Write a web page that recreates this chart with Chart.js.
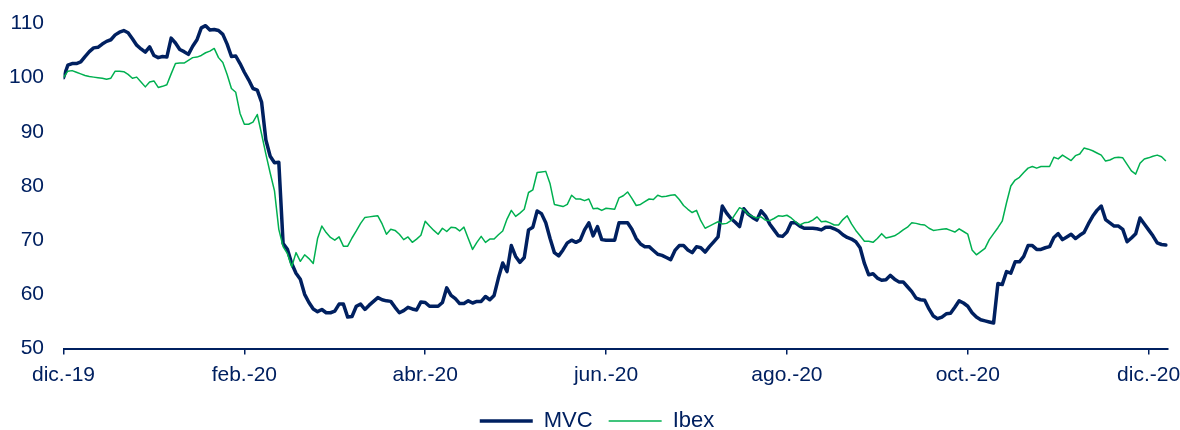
<!DOCTYPE html>
<html><head><meta charset="utf-8">
<script src="https://cdn.jsdelivr.net/npm/chart.js@4.4.1/dist/chart.umd.min.js"></script>
<style>html,body{margin:0;padding:0;background:#fff;}canvas{display:block}</style>
</head><body>
<canvas id="c" width="1180" height="430"></canvas>
<script>
const tickLabels = ['dic.-19','feb.-20','abr.-20','jun.-20','ago.-20','oct.-20','dic.-20'];
const sessionsPerTick = 42;
const seriesNames = ['MVC','Ibex'];
const mvc = [
100,102.3,102.6,102.6,102.9,103.9,104.8,105.5,105.6,106.2,106.7,107.0,107.9,108.4,108.7,108.3,107.2,106.0,105.3,104.7,
105.7,104.1,103.7,103.9,103.8,107.3,106.4,105.2,104.8,104.3,105.8,107.0,109.2,109.6,108.8,108.9,108.7,108.0,106.2,103.9,
104.0,102.6,101.0,99.6,98.0,97.7,95.5,88.5,85.5,84.3,84.4,69.4,68.3,65.7,63.9,62.8,60.0,58.5,57.3,56.8,
57.2,56.6,56.6,56.9,58.2,58.2,55.8,55.9,57.8,58.2,57.2,58.0,58.7,59.4,59.0,58.8,58.7,57.6,56.6,57.0,
57.6,57.3,57.1,58.6,58.5,57.8,57.8,57.8,58.5,61.2,59.8,59.2,58.3,58.3,58.8,58.4,58.7,58.7,59.6,59.0,
59.8,63.0,65.8,64.2,69.0,67.0,65.9,66.8,71.9,72.4,75.4,74.9,73.2,70.3,67.7,67.1,68.2,69.5,70.0,69.6,
70.0,71.9,73.2,70.8,72.5,70.1,70.0,70.0,70.0,73.2,73.2,73.2,72.0,70.3,69.3,68.8,68.8,68.1,67.4,67.2,
66.8,66.4,68.1,69.0,69.0,68.2,67.7,68.8,68.6,67.8,68.8,69.7,70.6,76.3,75.0,74.0,73.3,72.5,75.8,74.8,
74.2,73.7,75.4,74.5,73.0,71.9,70.8,70.7,71.5,73.2,73.2,72.6,72.2,72.2,72.2,72.1,71.9,72.4,72.4,72.1,
71.7,71.0,70.5,70.2,69.7,68.6,65.7,63.6,63.8,63.0,62.6,62.7,63.5,62.8,62.3,62.3,61.4,60.5,59.3,59.0,
58.9,57.3,56.0,55.5,55.8,56.4,56.5,57.6,58.8,58.4,57.8,56.6,55.8,55.3,55.1,54.9,54.7,62.0,61.8,64.2,
63.9,66.0,66.0,67.0,69.0,69.0,68.3,68.3,68.6,68.8,70.5,71.2,70.1,70.6,71.1,70.3,70.9,71.4,73.0,74.4,
75.5,76.3,73.8,73.2,72.6,72.6,72.0,69.7,70.4,71.2,74.1,73.0,71.9,70.8,69.5,69.2,69.1
];
const ibex = [
100,101.2,101.3,101.0,100.7,100.4,100.2,100.1,100.0,99.9,99.7,99.9,101.2,101.2,101.1,100.6,99.9,100.1,99.2,98.3,
99.2,99.4,98.2,98.4,98.7,100.7,102.6,102.7,102.7,103.2,103.7,103.8,104.1,104.6,104.9,105.4,103.7,102.8,100.6,98.0,
97.3,93.4,91.4,91.4,91.8,93.2,89.6,85.9,82.4,79.1,72.0,68.8,67.5,65.1,67.7,66.1,67.3,66.6,65.7,70.3,
72.6,71.4,70.5,70.0,70.6,68.9,68.9,70.4,71.7,73.1,74.2,74.3,74.4,74.5,73.0,71.1,72.0,71.8,71.1,70.1,
70.6,69.6,70.2,70.9,73.5,72.6,71.8,71.1,72.2,71.6,72.4,72.3,71.7,72.4,70.3,68.3,69.6,70.7,69.6,70.2,
70.2,71.0,71.7,73.9,75.5,74.4,75.0,75.7,78.8,79.3,82.5,82.6,82.7,80.4,76.6,76.4,76.2,76.6,78.3,77.6,
77.6,77.3,77.6,75.8,75.9,75.5,75.9,75.8,75.7,77.8,78.2,78.9,77.7,76.4,76.6,77.1,77.6,77.5,78.3,78.0,
78.1,78.3,78.4,77.5,76.4,75.7,75.1,75.5,73.6,72.2,72.6,73.0,73.4,73.0,73.1,73.6,74.8,76.0,75.6,74.8,
74.4,74.1,74.3,73.7,73.6,74.0,74.5,74.4,74.6,74.1,73.4,72.8,73.2,73.3,73.7,74.3,73.4,73.5,73.2,72.8,
72.8,73.8,74.5,73.0,71.8,70.8,69.8,69.8,69.6,70.3,71.2,70.4,70.6,70.8,71.3,71.9,72.4,73.2,73.1,72.9,
72.8,72.2,71.8,71.9,72.0,72.1,71.8,71.5,72.1,71.6,71.1,68.2,67.3,67.9,68.5,70.1,71.2,72.3,73.5,76.9,
80.0,81.1,81.6,82.5,83.3,83.6,83.3,83.6,83.6,83.6,85.3,85.0,85.7,85.2,84.7,85.6,85.9,87.0,86.8,86.5,
86.1,85.7,84.6,84.8,85.2,85.3,85.2,84.0,82.8,82.2,84.2,85.0,85.2,85.5,85.7,85.4,84.6
];
const yMin = 50, yMax = 110, yStep = 10;

const NAVY = '#002060';
const GREEN = '#00B050';
const FONT = '"Liberation Sans", Arial, sans-serif';

const legendPlacer = {
  id: 'legendPlacer',
  afterLayout(chart) {
    const lg = chart.legend;
    if (!lg) return;
    const dy = 4.5, dx = 13;
    lg.top += dy; lg.bottom += dy;
    lg.left += dx; lg.right += dx;
  }
};

new Chart(document.getElementById('c'), {
  type: 'line',
  data: {
    datasets: [
      { label: seriesNames[0], data: mvc.map((v, i) => ({ x: i, y: v })), borderColor: NAVY, backgroundColor: NAVY,
        borderWidth: 3.5, pointRadius: 0, tension: 0, borderJoinStyle: 'round', borderCapStyle: 'round', order: 1 },
      { label: seriesNames[1], data: ibex.map((v, i) => ({ x: i, y: v })), borderColor: GREEN, backgroundColor: GREEN,
        borderWidth: 1.5, pointRadius: 0, tension: 0, borderJoinStyle: 'round', order: 0 }
    ]
  },
  plugins: [legendPlacer],
  options: {
    responsive: false,
    animation: false,
    devicePixelRatio: 1,
    layout: { padding: { left: 0, right: 12, top: 23.5, bottom: -7.5 } },
    plugins: {
      tooltip: { enabled: false },
      legend: {
        position: 'bottom',
        labels: {
          usePointStyle: true, pointStyle: 'line', pointStyleWidth: 53,
          font: { size: 22, family: FONT }, color: NAVY, padding: 16,
          sort: (a, b) => a.datasetIndex - b.datasetIndex
        }
      }
    },
    scales: {
      x: {
        type: 'linear', min: 0, max: 256.5,
        afterBuildTicks: s => { s.ticks = tickLabels.map((_, k) => ({ value: k * sessionsPerTick })); },
        ticks: { autoSkip: false, maxRotation: 0, padding: 8.5, color: NAVY, font: { size: 21, family: FONT },
          callback: v => tickLabels[Math.round(v / sessionsPerTick)] },
        grid: { display: true, drawOnChartArea: false, drawTicks: true, tickLength: 6, color: NAVY, lineWidth: 1.5 },
        border: { display: true, color: NAVY, width: 2 },
        afterFit: s => { s.height = 41; s.paddingLeft = 0; s.paddingRight = 0; }
      },
      y: {
        min: yMin, max: yMax,
        ticks: { stepSize: yStep, padding: 19.5, color: NAVY, font: { size: 21, family: FONT } },
        grid: { display: false, drawTicks: false },
        border: { display: false },
        afterFit: s => { s.width = 63.5; s.paddingTop = 0; s.paddingBottom = 0; }
      }
    }
  }
});
</script>
</body></html>
